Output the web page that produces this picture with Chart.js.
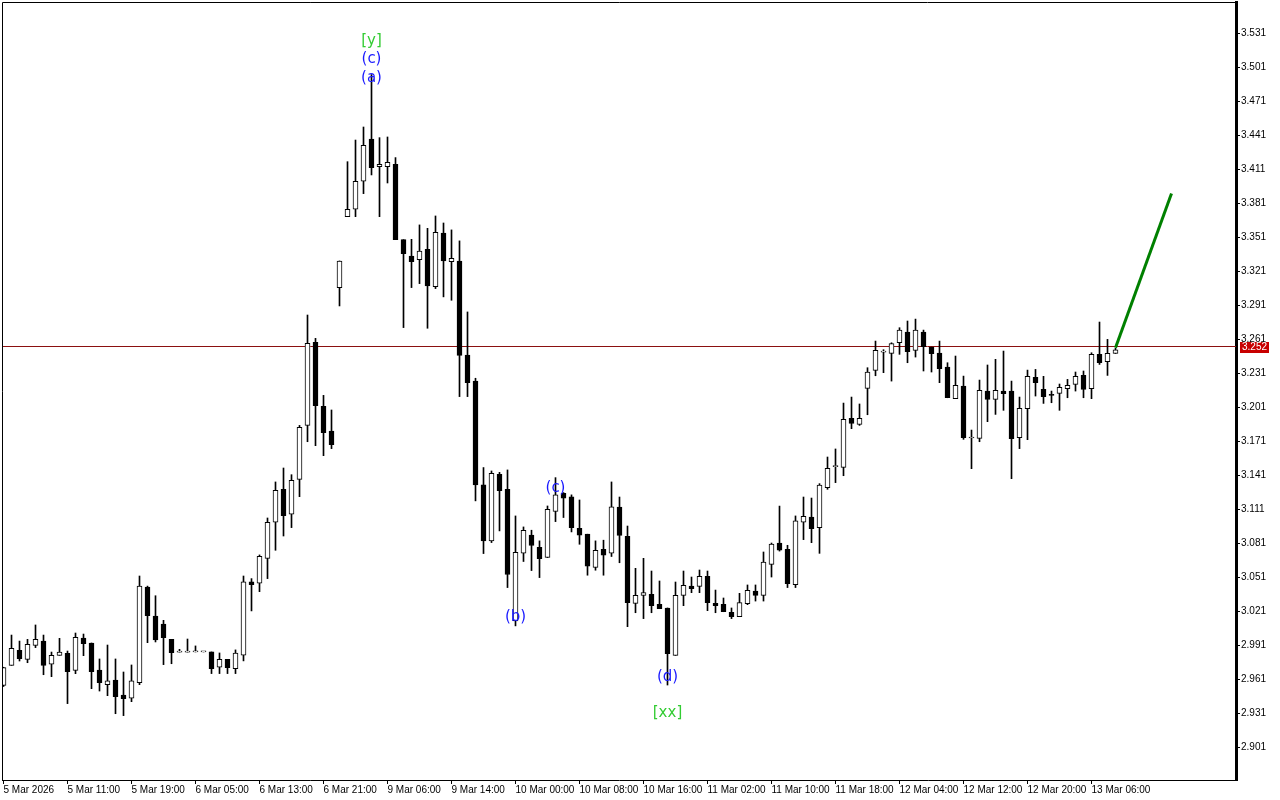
<!DOCTYPE html>
<html>
<head>
<meta charset="utf-8">
<title>Chart</title>
<script src="https://cdn.jsdelivr.net/npm/chart.js@4.4.1/dist/chart.umd.min.js"></script>
<style>
  html, body { margin: 0; padding: 0; background: #fff; }
  #wrap { width: 1280px; height: 800px; }
</style>
</head>
<body>
<div id="wrap"><canvas id="candles" width="1280" height="800"></canvas></div>
<script>
// hourly candles
const openP = [
  2.956, 2.9737, 2.9869, 2.979, 2.9913, 2.9951, 2.9746, 2.9825, 2.9843, 2.9693,
  2.9978, 2.9934, 2.9696, 2.9566, 2.9607, 2.9475, 2.9446, 2.9584, 3.0428, 3.0172,
  3.0101, 2.9966, 2.9854, 2.9854, 2.9855, 2.9855, 2.9855, 2.972, 2.979, 2.9708,
  2.9826, 3.0473, 3.0461, 3.0681, 3.0999, 3.129, 3.107, 3.1378, 3.1854, 3.2586,
  3.2022, 3.1804, 3.307, 3.3696, 3.3761, 3.4008, 3.4381, 3.4137, 3.4137, 3.4158,
  3.3493, 3.3349, 3.3317, 3.3408, 3.3079, 3.3552, 3.3299, 3.3305, 3.2475, 3.2246,
  3.1329, 3.0835, 3.1423, 3.129, 3.0129, 3.0726, 3.0887, 3.0779, 3.0688, 3.1094,
  3.1255, 3.1223, 3.0946, 3.0894, 3.06, 3.0761, 3.0726, 3.1133, 3.0875, 3.0284,
  3.0354, 3.0363, 3.0275, 3.0243, 2.9825, 3.0354, 3.0437, 3.0434, 3.0522, 3.0284,
  3.0275, 3.0204, 3.0166, 3.0281, 3.0393, 3.0354, 3.0628, 3.0816, 3.0761, 3.0449,
  3.0999, 3.1046, 3.0952, 3.1305, 3.149, 3.1484, 3.1916, 3.1863, 3.2181, 3.2339,
  3.2501, 3.2489, 3.2583, 3.2678, 3.2516, 3.2678, 3.2545, 3.2492, 3.2369, 3.209,
  3.2201, 3.1743, 3.174, 3.2157, 3.2084, 3.2157, 3.2157, 3.1746, 3.2001, 3.2278,
  3.2172, 3.2128, 3.2137, 3.2178, 3.2216, 3.2295, 3.2178, 3.248, 3.2416, 3.2489
];
const highP = [
  2.972, 3.0004, 2.9951, 2.9966, 3.0093, 3.0004, 2.9854, 2.9975, 2.9863, 3.0022,
  3.0013, 2.9934, 2.9793, 2.9916, 2.9793, 2.9678, 2.974, 3.0525, 3.0436, 3.0351,
  3.0134, 2.9966, 2.9878, 2.9969, 2.9908, 2.9855, 2.9855, 2.9846, 2.979, 2.9873,
  3.0525, 3.0502, 3.0711, 3.1037, 3.1355, 3.1478, 3.1419, 3.1854, 3.2828, 3.2622,
  3.2119, 3.199, 3.3305, 3.4181, 3.4372, 3.4487, 3.495, 3.4393, 3.4399, 3.4217,
  3.3493, 3.3496, 3.3623, 3.3593, 3.3702, 3.364, 3.3579, 3.3482, 3.2855, 3.227,
  3.1482, 3.1452, 3.144, 3.1461, 3.1055, 3.0958, 3.0929, 3.0835, 3.1143, 3.1393,
  3.1261, 3.1241, 3.1196, 3.0894, 3.0835, 3.0841, 3.1355, 3.1222, 3.0966, 3.0593,
  3.0681, 3.0569, 3.0481, 3.0243, 3.0472, 3.0569, 3.0516, 3.0578, 3.0569, 3.0401,
  3.0331, 3.0243, 3.0372, 3.0446, 3.0446, 3.0737, 3.0816, 3.1142, 3.0796, 3.1055,
  3.1222, 3.1213, 3.134, 3.1575, 3.1646, 3.2051, 3.2104, 3.2043, 3.2363, 3.2598,
  3.2522, 3.2583, 3.2716, 3.2775, 3.2792, 3.2695, 3.2545, 3.2598, 3.2407, 3.2466,
  3.2289, 3.1813, 3.2254, 3.2387, 3.2437, 3.251, 3.2245, 3.2104, 3.2342, 3.2348,
  3.2287, 3.2157, 3.2219, 3.226, 3.2325, 3.2334, 3.2495, 3.2766, 3.2613, 3.2534
];
const lowP = [
  2.955, 2.9737, 2.9775, 2.976, 2.9893, 2.9654, 2.9637, 2.9825, 2.9399, 2.9663,
  2.9822, 2.9531, 2.951, 2.9469, 2.931, 2.9293, 2.9416, 2.9566, 2.9937, 2.9943,
  2.9743, 2.9751, 2.9854, 2.9854, 2.9855, 2.9855, 2.9664, 2.9664, 2.9664, 2.9664,
  2.9776, 3.0217, 3.0387, 3.0502, 3.0752, 3.0878, 3.0952, 3.1225, 3.171, 3.1675,
  3.1587, 3.1649, 3.2908, 3.3696, 3.3696, 3.3899, 3.4064, 3.3696, 3.3993, 3.3493,
  3.2717, 3.307, 3.3105, 3.2711, 3.3061, 3.2988, 3.2958, 3.2108, 3.2108, 3.1188,
  3.0723, 3.082, 3.0923, 3.0423, 3.0085, 3.0653, 3.0573, 3.0511, 3.0688, 3.1005,
  3.1041, 3.0914, 3.0805, 3.0532, 3.0576, 3.0532, 3.0697, 3.0642, 3.0078, 3.0201,
  3.0149, 3.0201, 3.0237, 2.9563, 2.9825, 3.0263, 3.0378, 3.0378, 3.0219, 3.0201,
  3.021, 3.0149, 3.0166, 3.0272, 3.0304, 3.0304, 3.0516, 3.0745, 3.0423, 3.0423,
  3.0846, 3.0819, 3.0725, 3.129, 3.1349, 3.141, 3.1825, 3.1854, 3.1948, 3.2292,
  3.2319, 3.2245, 3.2481, 3.2407, 3.2457, 3.2334, 3.2325, 3.2231, 3.2098, 3.209,
  3.1731, 3.1472, 3.171, 3.1887, 3.1951, 3.1987, 3.1384, 3.1649, 3.1728, 3.2113,
  3.2048, 3.2054, 3.1987, 3.2098, 3.2157, 3.2098, 3.209, 3.2392, 3.2295, 3.2489
];
const closeP = [
  2.9716, 2.9887, 2.9796, 2.9922, 2.9966, 2.9737, 2.9825, 2.9854, 2.9681, 2.9984,
  2.9928, 2.9681, 2.9584, 2.9599, 2.946, 2.9443, 2.9599, 3.0436, 3.0175, 2.996,
  2.9981, 2.9848, 2.9854, 2.9854, 2.9855, 2.9855, 2.9708, 2.979, 2.9717, 2.9846,
  3.0473, 3.0449, 3.0699, 3.0999, 3.1281, 3.1058, 3.1369, 3.1837, 3.2578, 3.2028,
  3.179, 3.1684, 3.3305, 3.3761, 3.4008, 3.4325, 3.4128, 3.4158, 3.4175, 3.3493,
  3.337, 3.3299, 3.3393, 3.3085, 3.3558, 3.3305, 3.3329, 3.2472, 3.2231, 3.1329,
  3.0835, 3.1432, 3.1279, 3.0538, 3.0735, 3.0929, 3.0794, 3.0679, 3.1114, 3.1241,
  3.1211, 3.0952, 3.0885, 3.0611, 3.0752, 3.0708, 3.1135, 3.0884, 3.029, 3.0354,
  3.0378, 3.0263, 3.0237, 2.984, 3.0354, 3.0443, 3.0413, 3.0522, 3.029, 3.0263,
  3.021, 3.0166, 3.029, 3.0398, 3.0354, 3.0648, 3.0807, 3.0754, 3.0458, 3.1011,
  3.1052, 3.0943, 3.1328, 3.1475, 3.149, 3.1907, 3.1872, 3.1916, 3.2325, 3.2516,
  3.2501, 3.2575, 3.2695, 3.2504, 3.2695, 3.2548, 3.2486, 3.2354, 3.2098, 3.2207,
  3.1746, 3.1743, 3.2163, 3.2084, 3.2163, 3.2134, 3.1737, 3.2004, 3.2287, 3.2231,
  3.2107, 3.2119, 3.219, 3.2207, 3.2287, 3.2172, 3.248, 3.2407, 3.2489, 3.252
];

// time scale: one label every 8 bars
const timeLabels = [
  '5 Mar 2026', '5 Mar 11:00', '5 Mar 19:00', '6 Mar 05:00', '6 Mar 13:00', '6 Mar 21:00',
  '9 Mar 06:00', '9 Mar 14:00', '10 Mar 00:00', '10 Mar 08:00', '10 Mar 16:00', '11 Mar 02:00',
  '11 Mar 10:00', '11 Mar 18:00', '12 Mar 04:00', '12 Mar 12:00', '12 Mar 20:00', '13 Mar 06:00'
];
const labelEvery = 8;
const priceTicks = [
  2.901, 2.931, 2.961, 2.991, 3.021, 3.051, 3.081, 3.111, 3.141, 3.171, 3.201,
  3.231, 3.261, 3.291, 3.321, 3.351, 3.381, 3.411, 3.441, 3.471, 3.501, 3.531
];
const lastPrice = 3.252;

// wave marks
const waveText = ['[y]', '(c)', '(a)', '(b)', '(c)', '(d)', '[xx]'];
const waveBar = [46, 46, 46, 64, 69, 83, 83];
const wavePrice = [3.5246, 3.5087, 3.4919, 3.0163, 3.1302, 2.9634, 2.9316];

// projection line
const projX = [139, 146];
const projY = [3.254, 3.390];

const idx = openP.map((_, i) => i);
const wickData = idx.map(i => ({ x: i, y: [lowP[i], highP[i]] }));
const bodyData = idx.map(i => ({ x: i, y: [openP[i], closeP[i]] }));
const bodyColor = idx.map(i => closeP[i] >= openP[i] ? '#ffffff' : '#000000');

const tickFont = { family: "'Liberation Sans', Arial, sans-serif", size: 10 };

// no extra room for the end labels
function noPad(axis) {
  axis.paddingTop = 0;
  axis.paddingBottom = 0;
  axis.paddingLeft = 0;
  axis.paddingRight = 0;
}

// frame, price line, price box and wave labels
const overlay = {
  id: 'overlay',
  beforeDatasetsDraw(chart) {
    const { ctx, chartArea: a, scales } = chart;
    const y = Math.round(scales.y.getPixelForValue(lastPrice)) - 3.5;
    ctx.save();
    ctx.strokeStyle = '#8b1010';
    ctx.lineWidth = 1;
    ctx.beginPath();
    ctx.moveTo(a.left, y);
    ctx.lineTo(a.right, y);
    ctx.stroke();
    ctx.restore();
  },
  afterDraw(chart) {
    const { ctx, chartArea: a, scales } = chart;
    ctx.save();
    ctx.strokeStyle = '#000';
    ctx.lineWidth = 1;
    ctx.beginPath();
    ctx.moveTo(a.left + 0.5, a.bottom);
    ctx.lineTo(a.left + 0.5, a.top + 0.5);
    ctx.lineTo(a.right, a.top + 0.5);
    ctx.stroke();

    // last price box
    const py = Math.round(scales.y.getPixelForValue(lastPrice)) - 4;
    ctx.fillStyle = '#c80000';
    ctx.fillRect(a.right + 4, py - 4, 29, 11);
    ctx.fillStyle = '#fff';
    ctx.font = "10px 'Liberation Sans', Arial, sans-serif";
    ctx.textAlign = 'left';
    ctx.textBaseline = 'middle';
    ctx.fillText(lastPrice.toFixed(3), a.right + 6, py + 1.5);

    // wave labels
    ctx.font = "15px 'DejaVu Sans', sans-serif";
    ctx.textAlign = 'center';
    waveText.forEach((t, k) => {
      ctx.fillStyle = t[0] === '[' ? '#33cc33' : '#1a1aff';
      ctx.fillText(t, scales.x.getPixelForValue(waveBar[k]), scales.y.getPixelForValue(wavePrice[k]));
    });
    ctx.restore();
  }
};

new Chart(document.getElementById('candles'), {
  type: 'bar',
  data: {
    datasets: [
      {
        type: 'line',
        data: projX.map((x, i) => ({ x: x, y: projY[i] })),
        borderColor: '#008000',
        borderWidth: 3,
        pointRadius: 0,
        order: 0
      },
      {
        data: bodyData,
        backgroundColor: bodyColor,
        borderColor: '#000',
        borderWidth: 1,
        borderSkipped: false,
        barThickness: 5,
        minBarLength: 1,
        grouped: false,
        order: 1
      },
      {
        data: wickData,
        backgroundColor: '#000',
        barThickness: 1,
        grouped: false,
        order: 2
      }
    ]
  },
  options: {
    responsive: false,
    animation: false,
    layout: { padding: { left: 2, top: 2, right: 0, bottom: 0 } },
    plugins: { legend: { display: false }, tooltip: { enabled: false } },
    scales: {
      x: {
        type: 'linear',
        min: -0.1875,
        max: 154.0625,
        offset: false,
        bounds: 'data',
        afterBuildTicks: axis => {
          axis.ticks = timeLabels.map((_, k) => ({ value: k * labelEvery }));
        },
        afterFit: axis => { axis.height = 20; noPad(axis); },
        grid: { drawOnChartArea: false, drawTicks: true, tickLength: 4, color: '#000', offset: false },
        border: { color: '#000', width: 1 },
        ticks: {
          autoSkip: false,
          maxRotation: 0,
          align: 'start',
          padding: 0,
          color: '#000',
          font: tickFont,
          callback: (v, k) => timeLabels[k]
        }
      },
      y: {
        position: 'right',
        min: 2.8725,
        max: 3.5590,
        beginAtZero: false,
        bounds: 'data',
        afterBuildTicks: axis => {
          axis.ticks = priceTicks.map(v => ({ value: v }));
        },
        afterFit: axis => { axis.width = 44; noPad(axis); },
        grid: { drawOnChartArea: false, drawTicks: true, tickLength: 4, color: '#000' },
        border: { color: '#000', width: 3 },
        ticks: {
          padding: 1,
          color: '#000',
          font: tickFont,
          callback: v => v.toFixed(3)
        }
      }
    }
  },
  plugins: [overlay]
});
</script>
</body>
</html>
